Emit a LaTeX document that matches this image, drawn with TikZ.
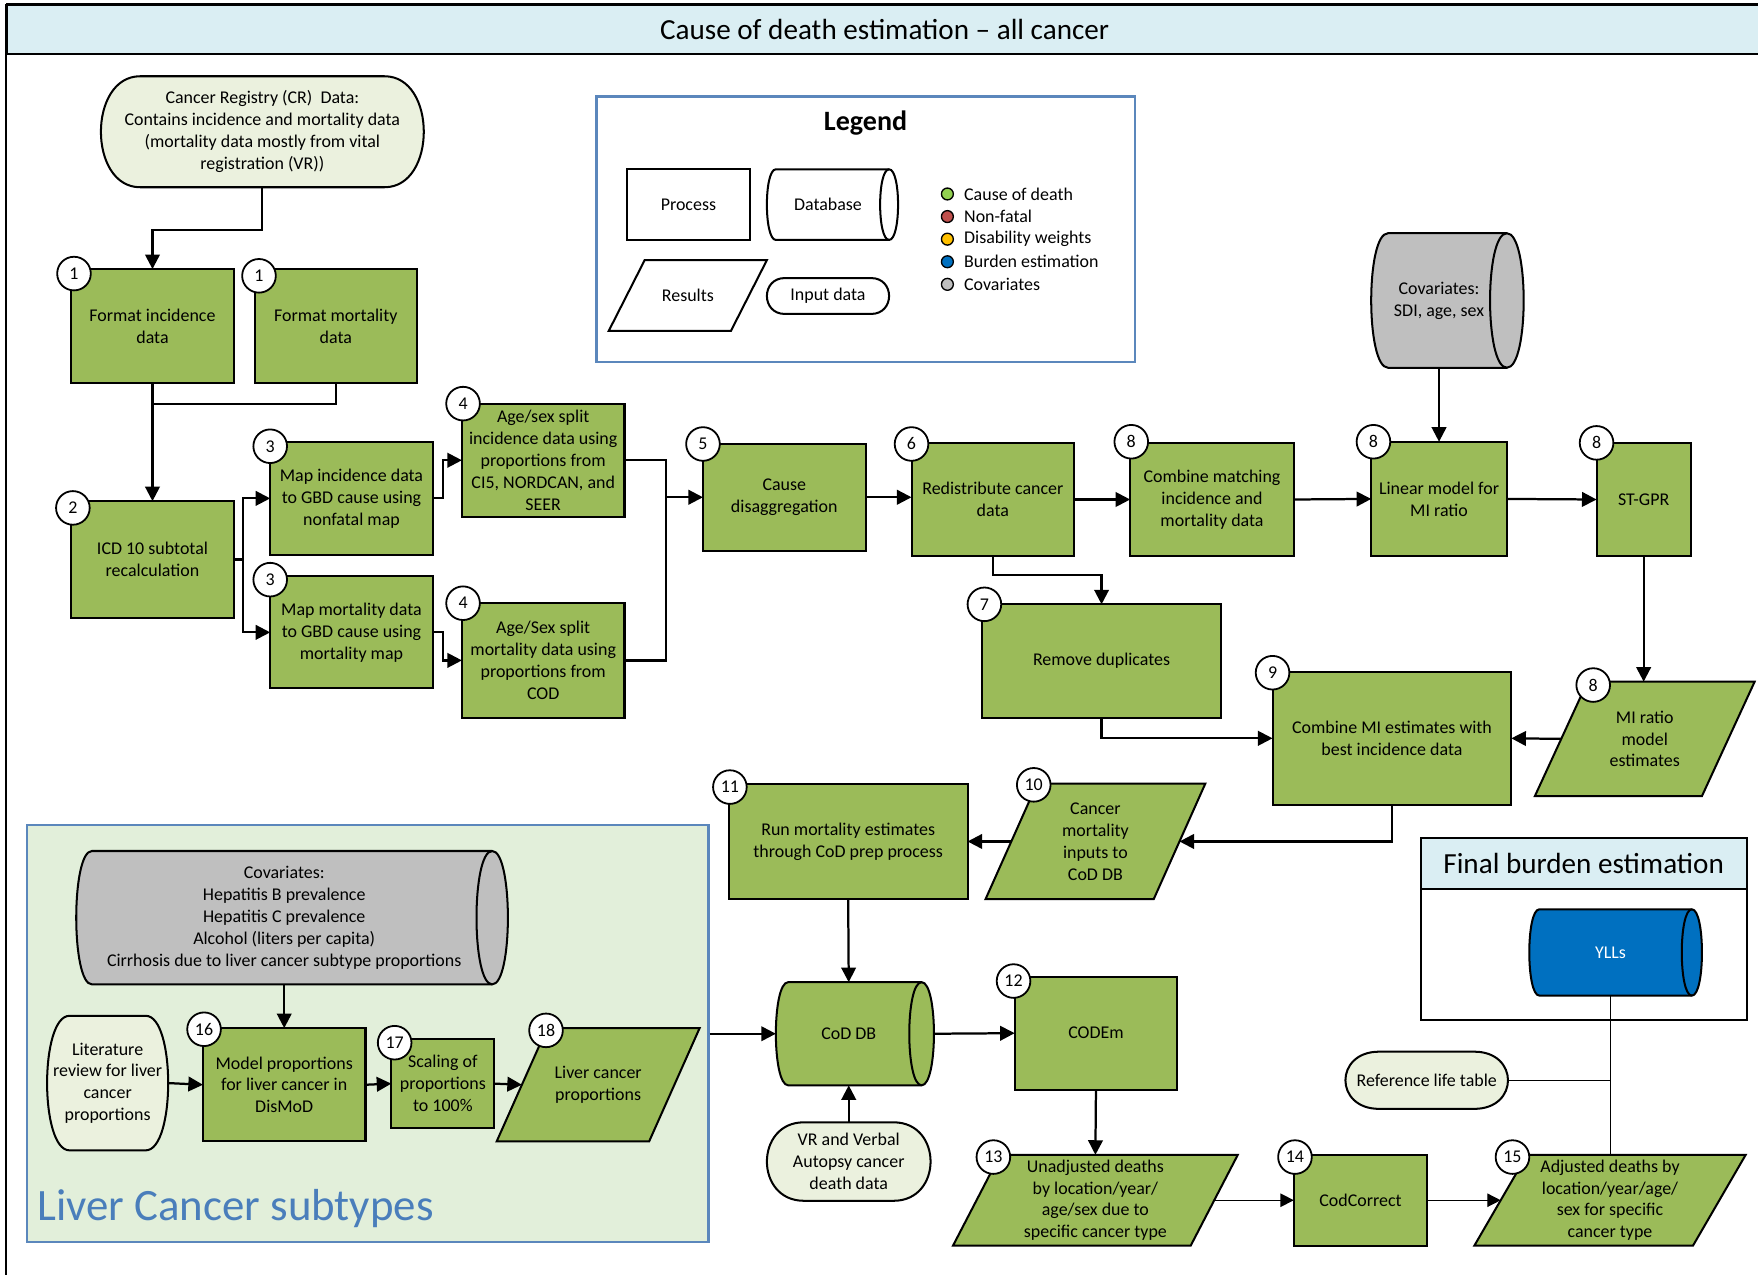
\documentclass[tikz,border=0pt]{standalone}
\usepackage{fontspec}
\setmainfont{Carlito}
\usetikzlibrary{arrows.meta,backgrounds}

\definecolor{procgreen}{HTML}{9BBB59}
\definecolor{inputfill}{HTML}{EBF1DE}
\definecolor{covgray}{HTML}{BFBFBF}
\definecolor{burdenblue}{HTML}{0070C0}
\definecolor{headblue}{HTML}{DAEEF3}
\definecolor{livfill}{HTML}{E2EFDA}
\definecolor{boxblue}{HTML}{5B87BC}
\definecolor{livtext}{HTML}{4A7EBB}
\definecolor{codgreen}{HTML}{92D050}
\definecolor{nfred}{HTML}{C0504D}
\definecolor{dwyellow}{HTML}{FFC000}

\newcommand{\boxfont}{\fontsize{8}{9.75}\selectfont}

% database: bulge on the left, open ellipse on the right (node, fill, radius)
\newcommand{\dbshape}[3]{%
  \draw[shapeline, fill=#2] ([xshift=#3*0.5pt]#1.north west) -- (#1.north east)
    .. controls +(1.333*#3,0) and +(1.333*#3,0) .. (#1.south east)
    -- ([xshift=#3*0.5pt]#1.south west)
    .. controls +(-1.333*#3,0) and +(-1.333*#3,0) .. ([xshift=#3*0.5pt]#1.north west) -- cycle;
  \draw[shapeline] (#1.north east) .. controls +(-1.333*#3,0) and +(-1.333*#3,0) .. (#1.south east);
}
% input data: rounded ends (node, fill, depth of the ends)
\newcommand{\pillshape}[3]{%
  \draw[shapeline, fill=#2] ([xshift=#3*0.5pt]#1.north west) -- ([xshift=-#3*0.5pt]#1.north east)
    .. controls +(1.333*#3,0) and +(1.333*#3,0) .. ([xshift=-#3*0.5pt]#1.south east)
    -- ([xshift=#3*0.5pt]#1.south west)
    .. controls +(-1.333*#3,0) and +(-1.333*#3,0) .. ([xshift=#3*0.5pt]#1.north west) -- cycle;
}
% results: parallelogram (node, fill, slant)
\newcommand{\resshape}[3]{%
  \draw[shapeline, fill=#2] (#1.south west) -- ([xshift=#3*0.5pt]#1.north west)
    -- (#1.north east) -- ([xshift=-#3*0.5pt]#1.south east) -- cycle;
}

\tikzset{
  proc/.style={draw, fill=procgreen, line width=0.9pt, align=center, inner sep=1pt, outer sep=0pt, font=\boxfont},
  textonly/.style={align=center, inner sep=0pt, outer sep=0pt, font=\boxfont},
  badge/.style={circle, draw, fill=white, line width=0.8pt, minimum size=15pt, inner sep=0pt, font=\boxfont},
  shapeline/.style={draw, line width=0.9pt},
  link/.style={line width=1pt, -{Triangle[length=6.5pt,width=6.5pt]}},
  thinlink/.style={line width=0.6pt, -{Triangle[length=6pt,width=6pt]}},
  joinline/.style={line width=1pt},
  thinline/.style={line width=0.6pt},
  legdot/.style={circle, draw, line width=0.6pt, minimum size=5.3pt, inner sep=0pt},
}

\begin{document}
\begin{tikzpicture}[x=0.5pt, y=-0.5pt]

  \useasboundingbox (0,0) rectangle (1568,1137);

  % registry data and first steps
  \node[textonly, minimum width=144pt, minimum height=49.5pt] (cr) at (234,117.5)
    {Cancer Registry (CR)\ \ Data:\\Contains incidence and mortality data\\(mortality data mostly from vital\\registration (VR))};
  \node[proc, minimum width=73pt, minimum height=51pt] (fmtinc) at (136,291) {Format incidence\\data};
  \node[proc, minimum width=72.5pt, minimum height=51pt] (fmtmort) at (299.5,291) {Format mortality\\data};
  \node[proc, minimum width=73pt, minimum height=52pt] (icd) at (136,499) {ICD 10 subtotal\\recalculation};
  \node[proc, minimum width=72.5pt, minimum height=50.5pt] (mapinc) at (313.5,444.5) {Map incidence data\\to GBD cause using\\nonfatal map};
  \node[proc, minimum width=72.5pt, minimum height=50pt] (mapmort) at (313.5,564) {Map mortality data\\to GBD cause using\\mortality map};
  \node[proc, minimum width=72.5pt, minimum height=50.5pt] (ageinc) at (484.5,410.5) {Age/sex split\\incidence data using\\proportions from\\CI5, NORDCAN, and\\SEER};
  \node[proc, minimum width=72.5pt, minimum height=51pt] (agemort) at (484.5,589) {Age/Sex split\\mortality data using\\proportions from\\COD};
  \node[proc, minimum width=72.5pt, minimum height=47.5pt] (cause) at (699.5,443.5) {Cause\\disaggregation};

  % MI ratio row
  \node[proc, minimum width=72.5pt, minimum height=50.5pt] (redis) at (885.5,445.5) {Redistribute cancer\\data};
  \node[proc, minimum width=73pt, minimum height=50.5pt] (combmatch) at (1081,445.5) {Combine matching\\incidence and\\mortality data};
  \node[proc, minimum width=60.5pt, minimum height=51pt] (linmod) at (1283.5,445) {Linear model for\\MI ratio};
  \node[proc, minimum width=42pt, minimum height=50.5pt] (stgpr) at (1466,445.5) {ST-GPR};
  \node[textonly, minimum width=60.5pt, minimum height=60pt] (covsdi) at (1283.5,268) {Covariates:\\SDI, age, sex};
  \node[proc, minimum width=106.5pt, minimum height=50.5pt] (remdup) at (982.5,589.5) {Remove duplicates};
  \node[proc, minimum width=106.5pt, minimum height=59.5pt] (combmi) at (1241.5,658.5) {Combine MI estimates with\\best incidence data};
  \node[textonly, minimum width=98pt, minimum height=51pt] (miratio) at (1467,659) {MI ratio\\model\\estimates};
  \node[textonly, minimum width=98pt, minimum height=51.5pt] (cmi) at (977,750.5) {Cancer\\mortality\\inputs to\\CoD DB};
  \node[proc, minimum width=106.5pt, minimum height=51.5pt] (runmort) at (756.5,750.5) {Run mortality estimates\\through CoD prep process};

  % CoD database and CODEm
  \node[textonly, minimum width=65pt, minimum height=46pt] (coddb) at (757,922) {CoD DB};
  \node[textonly, minimum width=73pt, minimum height=35pt] (vr) at (757,1036) {VR and Verbal\\Autopsy cancer\\death data};
  \node[proc, minimum width=72.5pt, minimum height=50.5pt] (codem) at (977.5,921.5) {CODEm};
  \node[textonly, minimum width=127pt, minimum height=40.5pt] (unadj) at (977,1070.5) {Unadjusted deaths\\by location/year/\\age/sex due to\\specific cancer type};
  \node[proc, minimum width=59.5pt, minimum height=40.5pt] (codcorr) at (1213.5,1070.5) {CodCorrect};
  \node[textonly, minimum width=121pt, minimum height=40.5pt] (adj) at (1436,1070.5) {Adjusted deaths by\\location/year/age/\\sex for specific\\cancer type};
  \node[textonly, minimum width=72.5pt, minimum height=38.5pt, text=white] (ylls) at (1436.5,849.5) {YLLs};
  \node[textonly, minimum width=72.5pt, minimum height=25.5pt] (refl) at (1272.5,963.5) {Reference life table};

  % liver cancer subtypes
  \node[textonly, minimum width=185.5pt, minimum height=59.5pt] (covliv) at (253.5,818.5)
    {Covariates:\\Hepatitis B prevalence\\Hepatitis C prevalence\\Alcohol (liters per capita)\\Cirrhosis due to liver cancer subtype proportions};
  \node[textonly, minimum width=54pt, minimum height=60pt] (lit) at (96,966) {Literature\\review for liver\\cancer\\proportions};
  \node[proc, minimum width=72.5pt, minimum height=50.5pt] (modprop) at (253.5,967.5) {Model proportions\\for liver cancer in\\DisMoD};
  \node[proc, minimum width=46pt, minimum height=39.5pt] (scal) at (395,966.5) {Scaling of\\proportions\\to 100\%};
  \node[textonly, minimum width=90.5pt, minimum height=50.5pt] (livprop) at (533.5,967.5) {Liver cancer\\proportions};
  \node[anchor=west, inner sep=0pt, text=livtext, font=\fontsize{20}{24}\selectfont] (livtitle) at (33,1078) {Liver Cancer subtypes};

  % legend
  \node[font=\bfseries\fontsize{12.5}{15}\selectfont] (legtitle) at (772,110) {Legend};
  \node[proc, fill=white, minimum width=55pt, minimum height=31.5pt] (legproc) at (614,182.5) {Process};
  \node[textonly, minimum width=54.5pt, minimum height=31.5pt] (legdb) at (738.5,182.5) {Database};
  \node[textonly, minimum width=70.5pt, minimum height=31.5pt] (legres) at (613.5,263.5) {Results};
  \node[textonly, minimum width=54.5pt, minimum height=16pt] (leginp) at (738.5,264) {Input data};
  \foreach \dc/\dt [count=\i] in {codgreen/Cause of death, nfred/Non-fatal, dwyellow/Disability weights, burdenblue/Burden estimation, covgray/Covariates}
    \node[legdot, fill=\dc, label={[font=\boxfont, label distance=1pt]right:\dt}] (dot\i) at (845,{173+20.15*(\i-1)}) {};

  % step numbers
  \foreach \bx/\by/\bn [count=\i] in {66/244/1, 231/246/1, 65/453/2, 241/398/3, 241/517/3, 413/360/4, 413/538/4,
      627/396/5, 813/396/6, 1009/394/8, 1225/394/8, 1424/395/8, 878/539/7, 1135/600/9, 1421/611/8,
      922/700/10, 651/702/11, 904/875/12, 886/1032/13, 1155/1032/14, 1349/1032/15, 182/918/16, 352/930/17, 487/919/18}
    \node[badge] (badge\i) at (\bx,\by) {\bn};

  \begin{scope}[on background layer]
    \clip (0,0) rectangle (1568,1137);
    % frame and boxes
    \node[draw, fill=headblue, line width=0.9pt, minimum width=783pt, minimum height=22.25pt,
      font=\fontsize{13}{15}\selectfont] (title) at (789,26.25) {Cause of death estimation – all cancer};
    \draw[line width=0.9pt] (5,4) -- (5,1137);
    \node[draw=boxblue, line width=1pt, minimum width=240pt, minimum height=118.5pt] (legbox) at (772,204.5) {};
    \node[draw=boxblue, fill=livfill, line width=1pt, minimum width=304pt, minimum height=186pt] (livbox) at (328,922) {};
    \node[draw, fill=white, line width=0.9pt, minimum width=145.5pt, minimum height=81.5pt] (fbe) at (1412.5,828.5) {};
    \node[draw, fill=headblue, line width=0.9pt, minimum width=145.5pt, minimum height=23pt,
      font=\fontsize{13}{15}\selectfont] (fbehead) at (1412.5,770) {Final burden estimation};

    % shapes behind the text nodes
    \dbshape{covsdi}{covgray}{15}
    \dbshape{coddb}{procgreen}{11}
    \dbshape{ylls}{burdenblue}{9}
    \dbshape{covliv}{covgray}{14}
    \dbshape{legdb}{white}{8}
    \pillshape{cr}{inputfill}{35}
    \pillshape{vr}{inputfill}{33}
    \pillshape{refl}{inputfill}{30}
    \pillshape{lit}{inputfill}{20}
    \pillshape{leginp}{white}{16}
    \resshape{miratio}{procgreen}{47}
    \resshape{cmi}{procgreen}{46}
    \resshape{unadj}{procgreen}{42}
    \resshape{adj}{procgreen}{47}
    \resshape{livprop}{procgreen}{45}
    \resshape{legres}{white}{32}
  \end{scope}

  % connectors, upper part
  \draw[link] (cr.south) -- ++(0,38) -| (fmtinc.north);
  \draw[joinline] (fmtmort.south) -- ++(0,18) -| (fmtinc.south);
  \draw[link] (fmtinc.south) -- (icd.north);
  \draw[link] (icd.east) -- ++(8,0) |- (mapinc.west);
  \draw[link] (icd.east) -- ++(8,0) |- (mapmort.west);
  \draw[link] (mapinc.east) -- ++(9,0) |- (ageinc.west);
  \draw[link] (mapmort.east) -- ++(9,0) |- (agemort.west);
  \draw[joinline] (ageinc.east) -- ++(37,0) coordinate (agejoin) |- (agemort.east);
  \draw[link] (agejoin |- cause.west) -- (cause.west);
  \draw[link] (cause.east) -- (cause.east -| redis.west);
  \draw[link] (redis.east) -- (combmatch.west);
  \draw[link] (combmatch.east) -- (linmod.west);
  \draw[link] (linmod.east) -- (stgpr.west);
  \draw[link] (covsdi.south) -- (linmod.north);

  % connectors, MI estimates
  \draw[link] (redis.south) -- ++(0,17) -| (remdup.north);
  \draw[link] (remdup.south) |- (combmi.west);
  \draw[link] (stgpr.south) -- (stgpr.south |- miratio.north);
  \draw[link] ([xshift=11.75pt]miratio.west) -- (combmi.east);
  \draw[link] (combmi.south) |- ([xshift=-11.5pt]cmi.east);
  \draw[link] ([xshift=11.5pt]cmi.west) -- (runmort.east);
  \draw[link] (runmort.south) -- (coddb.north);

  % connectors, CoD DB to final burden
  \draw[link] (vr.north) -- (coddb.south);
  \draw[link] (livbox.east) -- (coddb.west);
  \draw[link] ([xshift=5.5pt]coddb.east) -- (codem.west);
  \draw[link] (codem.south) -- (unadj.north);
  \draw[thinlink] ([xshift=-10.5pt]unadj.east) -- (codcorr.west);
  \draw[thinlink] (codcorr.east) -- ([xshift=11.75pt]adj.west);
  \draw[thinline] (ylls.south) -- (ylls.south |- adj.north);
  \draw[thinline] (refl.east) -- (refl.east -| ylls.south);

  % connectors, liver cancer subtypes
  \draw[link] (covliv.south) -- (modprop.north);
  \draw[link] (lit.east) -- (modprop.west);
  \draw[link] (modprop.east) -- (scal.west);
  \draw[link] (scal.east) -- ([xshift=11.25pt]livprop.west);

\end{tikzpicture}
\end{document}
